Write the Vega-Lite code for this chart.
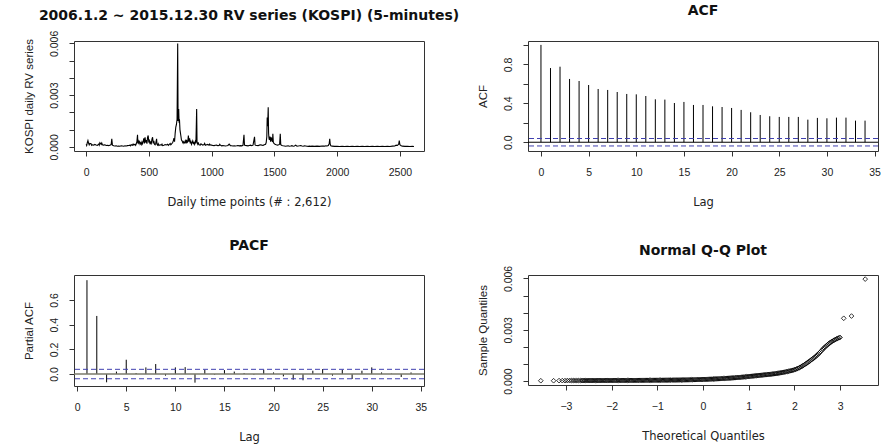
{
  "$schema": "https://vega.github.io/schema/vega-lite/v6.json",
  "usermeta": {"embedOptions": {"actions": false}},
  "background": "white",
  "padding": {"left": 22, "top": 3, "right": 0, "bottom": 0},
  "config": {
    "view": {"stroke": "#333", "strokeWidth": 1},
    "axis": {"labelFont": "Liberation Sans", "titleFont": "Liberation Sans", "labelFontSize": 10.5, "titleFontSize": 11.5, "titleFontWeight": "normal", "domain": false, "grid": false, "tickColor": "#333", "labelColor": "#222", "titleColor": "#222", "tickSize": 5, "labelOverlap": false, "labelSeparation": 0, "labelBound": false},
    "axisX": {"labelPadding": 11, "titlePadding": 19, "titleFont": "DejaVu Sans", "titleFontSize": 11.5},
    "axisY": {"labelAngle": -90, "labelAlign": "center", "labelBaseline": "bottom", "labelPadding": 10, "titlePadding": 15, "labelFontSize": 10.5},
    "title": {"font": "DejaVu Sans", "fontSize": 14, "fontWeight": "bold", "color": "#111", "anchor": "middle", "frame": "group"}
  },
  "datasets": {
    "one": [{}],
    "rv": [
      {"t":1,"v":0.00015},{"t":5,"v":0.00008},{"t":10,"v":0.00025},{"t":15,"v":0.00037},{"t":20,"v":0.00022},{"t":25,"v":0.00012},{"t":30,"v":0.0002},{"t":40,"v":0.00018},{"t":45,"v":0.00009},{"t":50,"v":0.00012},{"t":60,"v":0.0001},{"t":70,"v":0.00014},{"t":80,"v":0.00011},{"t":90,"v":0.00009},{"t":100,"v":0.00016},{"t":105,"v":0.00009},{"t":110,"v":0.00024},{"t":120,"v":0.00014},{"t":125,"v":0.00022},{"t":130,"v":0.00012},{"t":140,"v":0.0001},{"t":150,"v":0.00012},{"t":160,"v":0.00008},{"t":170,"v":0.00009},{"t":180,"v":0.00007},{"t":190,"v":0.0001},{"t":200,"v":0.00013},{"t":205,"v":0.00047},{"t":210,"v":0.0001},{"t":220,"v":0.00006},{"t":230,"v":0.00005},{"t":240,"v":0.00006},{"t":250,"v":0.00004},{"t":260,"v":0.00005},{"t":270,"v":0.00004},{"t":280,"v":0.00006},{"t":290,"v":0.00005},{"t":300,"v":0.00004},{"t":310,"v":0.00006},{"t":320,"v":0.00005},{"t":330,"v":0.00007},{"t":340,"v":0.00008},{"t":350,"v":0.0001},{"t":355,"v":0.00006},{"t":360,"v":0.00012},{"t":370,"v":0.00009},{"t":375,"v":0.00016},{"t":380,"v":0.00011},{"t":390,"v":0.00015},{"t":395,"v":0.00009},{"t":400,"v":0.00018},{"t":405,"v":0.0003},{"t":410,"v":0.0007},{"t":413,"v":0.0002},{"t":415,"v":0.0004},{"t":420,"v":0.00022},{"t":425,"v":0.0003},{"t":430,"v":0.00016},{"t":435,"v":0.00024},{"t":440,"v":0.00014},{"t":445,"v":0.00028},{"t":450,"v":0.00018},{"t":455,"v":0.00032},{"t":460,"v":0.0005},{"t":465,"v":0.0002},{"t":470,"v":0.00055},{"t":475,"v":0.00025},{"t":480,"v":0.0004},{"t":485,"v":0.00018},{"t":490,"v":0.00055},{"t":495,"v":0.00066},{"t":500,"v":0.00025},{"t":505,"v":0.00035},{"t":510,"v":0.00015},{"t":515,"v":0.00028},{"t":520,"v":0.0002},{"t":525,"v":0.00045},{"t":530,"v":0.00056},{"t":535,"v":0.0002},{"t":540,"v":0.00035},{"t":545,"v":0.00015},{"t":550,"v":0.00012},{"t":555,"v":0.0002},{"t":562,"v":0.00047},{"t":565,"v":0.00015},{"t":570,"v":0.0001},{"t":575,"v":0.00018},{"t":580,"v":0.00008},{"t":590,"v":0.00012},{"t":600,"v":0.0001},{"t":605,"v":0.00016},{"t":610,"v":0.00007},{"t":620,"v":0.00009},{"t":630,"v":0.00013},{"t":640,"v":0.00011},{"t":650,"v":0.00015},{"t":655,"v":0.00009},{"t":660,"v":0.00012},{"t":670,"v":0.0002},{"t":675,"v":0.00012},{"t":680,"v":0.00016},{"t":690,"v":0.00025},{"t":695,"v":0.00035},{"t":700,"v":0.0005},{"t":705,"v":0.0003},{"t":710,"v":0.0008},{"t":715,"v":0.00115},{"t":720,"v":0.0013},{"t":725,"v":0.0016},{"t":730,"v":0.006},{"t":733,"v":0.0015},{"t":736,"v":0.0018},{"t":738,"v":0.0022},{"t":741,"v":0.0014},{"t":744,"v":0.0016},{"t":748,"v":0.001},{"t":752,"v":0.0008},{"t":756,"v":0.0006},{"t":760,"v":0.0004},{"t":765,"v":0.00035},{"t":770,"v":0.00025},{"t":775,"v":0.0003},{"t":780,"v":0.0002},{"t":785,"v":0.00025},{"t":790,"v":0.00035},{"t":795,"v":0.0002},{"t":800,"v":0.0004},{"t":805,"v":0.00025},{"t":810,"v":0.0003},{"t":815,"v":0.00066},{"t":820,"v":0.0003},{"t":825,"v":0.0005},{"t":830,"v":0.0002},{"t":835,"v":0.0003},{"t":840,"v":0.00015},{"t":845,"v":0.00025},{"t":850,"v":0.00035},{"t":855,"v":0.0002},{"t":860,"v":0.00025},{"t":865,"v":0.00015},{"t":870,"v":0.0003},{"t":875,"v":0.0002},{"t":878,"v":0.00115},{"t":881,"v":0.0022},{"t":884,"v":0.0003},{"t":890,"v":0.00015},{"t":895,"v":0.00022},{"t":900,"v":0.00012},{"t":910,"v":0.0001},{"t":915,"v":0.00018},{"t":920,"v":0.00015},{"t":930,"v":0.0001},{"t":940,"v":0.00013},{"t":945,"v":0.0002},{"t":950,"v":0.00009},{"t":960,"v":0.00012},{"t":970,"v":0.00014},{"t":980,"v":0.00009},{"t":985,"v":0.00016},{"t":990,"v":0.00011},{"t":1000,"v":0.0001},{"t":1010,"v":0.00008},{"t":1020,"v":0.00007},{"t":1030,"v":0.00009},{"t":1040,"v":0.0001},{"t":1050,"v":0.00007},{"t":1060,"v":0.00008},{"t":1065,"v":0.00015},{"t":1070,"v":0.0001},{"t":1080,"v":0.00006},{"t":1090,"v":0.00007},{"t":1100,"v":0.00006},{"t":1110,"v":0.00005},{"t":1120,"v":0.00006},{"t":1130,"v":0.00008},{"t":1140,"v":0.00016},{"t":1150,"v":0.00007},{"t":1160,"v":0.00006},{"t":1170,"v":0.00005},{"t":1180,"v":0.00006},{"t":1190,"v":0.00005},{"t":1200,"v":0.00006},{"t":1210,"v":0.00008},{"t":1220,"v":0.00006},{"t":1230,"v":0.00007},{"t":1240,"v":0.00006},{"t":1250,"v":0.00009},{"t":1258,"v":0.0007},{"t":1262,"v":0.0001},{"t":1270,"v":0.00008},{"t":1280,"v":0.00007},{"t":1290,"v":0.00006},{"t":1300,"v":0.00008},{"t":1310,"v":0.0001},{"t":1320,"v":0.00007},{"t":1330,"v":0.0001},{"t":1342,"v":0.00058},{"t":1346,"v":0.00012},{"t":1350,"v":0.00009},{"t":1360,"v":0.00008},{"t":1370,"v":0.00007},{"t":1380,"v":0.0001},{"t":1390,"v":0.00012},{"t":1400,"v":0.0001},{"t":1410,"v":0.00009},{"t":1420,"v":0.00012},{"t":1430,"v":0.00015},{"t":1435,"v":0.00025},{"t":1440,"v":0.0006},{"t":1443,"v":0.0017},{"t":1447,"v":0.0012},{"t":1451,"v":0.0023},{"t":1454,"v":0.0008},{"t":1457,"v":0.0005},{"t":1460,"v":0.0004},{"t":1465,"v":0.0006},{"t":1470,"v":0.0003},{"t":1475,"v":0.00055},{"t":1480,"v":0.0004},{"t":1485,"v":0.0003},{"t":1488,"v":0.00076},{"t":1492,"v":0.00025},{"t":1497,"v":0.0002},{"t":1505,"v":0.00015},{"t":1515,"v":0.00012},{"t":1525,"v":0.0001},{"t":1535,"v":0.00012},{"t":1542,"v":0.00015},{"t":1547,"v":0.00076},{"t":1551,"v":0.00012},{"t":1560,"v":0.00008},{"t":1570,"v":0.00006},{"t":1580,"v":0.00005},{"t":1590,"v":0.00004},{"t":1600,"v":0.00005},{"t":1610,"v":0.00006},{"t":1620,"v":0.00004},{"t":1630,"v":0.00005},{"t":1640,"v":0.00007},{"t":1650,"v":0.00004},{"t":1660,"v":0.00005},{"t":1670,"v":0.0001},{"t":1680,"v":0.00004},{"t":1690,"v":0.00005},{"t":1700,"v":0.00006},{"t":1710,"v":0.00008},{"t":1720,"v":0.00005},{"t":1730,"v":0.00004},{"t":1740,"v":0.00006},{"t":1750,"v":0.00005},{"t":1760,"v":0.00004},{"t":1770,"v":0.00003},{"t":1780,"v":0.00004},{"t":1790,"v":0.00003},{"t":1800,"v":0.00004},{"t":1820,"v":0.00003},{"t":1840,"v":0.00004},{"t":1860,"v":0.00003},{"t":1880,"v":0.00005},{"t":1900,"v":0.00004},{"t":1910,"v":0.00006},{"t":1920,"v":0.00005},{"t":1930,"v":0.00008},{"t":1937,"v":0.0002},{"t":1941,"v":0.00047},{"t":1945,"v":0.00015},{"t":1950,"v":0.00006},{"t":1960,"v":0.00004},{"t":1980,"v":0.00003},{"t":2000,"v":0.00003},{"t":2020,"v":0.00002},{"t":2040,"v":0.00003},{"t":2060,"v":0.00002},{"t":2080,"v":0.00003},{"t":2100,"v":0.00002},{"t":2120,"v":0.00003},{"t":2140,"v":0.00002},{"t":2160,"v":0.00003},{"t":2180,"v":0.00002},{"t":2200,"v":0.00003},{"t":2220,"v":0.00002},{"t":2240,"v":0.00003},{"t":2260,"v":0.00002},{"t":2280,"v":0.00003},{"t":2300,"v":0.00002},{"t":2320,"v":0.00003},{"t":2340,"v":0.00002},{"t":2360,"v":0.00003},{"t":2380,"v":0.00002},{"t":2400,"v":0.00003},{"t":2420,"v":0.00002},{"t":2440,"v":0.00004},{"t":2460,"v":0.00005},{"t":2470,"v":0.0001},{"t":2480,"v":0.00008},{"t":2490,"v":0.00015},{"t":2495,"v":0.00037},{"t":2500,"v":0.00012},{"t":2510,"v":0.00006},{"t":2520,"v":0.00004},{"t":2540,"v":0.00003},{"t":2560,"v":0.00003},{"t":2580,"v":0.00002},{"t":2600,"v":0.00003},{"t":2612,"v":0.00002}
    ],
    "acf": [
      {"lag":0,"r":1.0},{"lag":1,"r":0.762},{"lag":2,"r":0.776},{"lag":3,"r":0.65},{"lag":4,"r":0.629},{"lag":5,"r":0.588},{"lag":6,"r":0.547},{"lag":7,"r":0.537},{"lag":8,"r":0.516},{"lag":9,"r":0.496},{"lag":10,"r":0.492},{"lag":11,"r":0.475},{"lag":12,"r":0.441},{"lag":13,"r":0.438},{"lag":14,"r":0.403},{"lag":15,"r":0.414},{"lag":16,"r":0.383},{"lag":17,"r":0.383},{"lag":18,"r":0.369},{"lag":19,"r":0.362},{"lag":20,"r":0.352},{"lag":21,"r":0.332},{"lag":22,"r":0.308},{"lag":23,"r":0.28},{"lag":24,"r":0.267},{"lag":25,"r":0.26},{"lag":26,"r":0.26},{"lag":27,"r":0.26},{"lag":28,"r":0.232},{"lag":29,"r":0.25},{"lag":30,"r":0.246},{"lag":31,"r":0.253},{"lag":32,"r":0.253},{"lag":33,"r":0.222},{"lag":34,"r":0.222}
    ],
    "pacf": [
      {"lag":1,"r":0.761},{"lag":2,"r":0.471},{"lag":3,"r":-0.067},{"lag":4,"r":0.02},{"lag":5,"r":0.116},{"lag":6,"r":0.008},{"lag":7,"r":0.054},{"lag":8,"r":0.081},{"lag":9,"r":-0.013},{"lag":10,"r":0.054},{"lag":11,"r":0.056},{"lag":12,"r":-0.07},{"lag":13,"r":0.035},{"lag":14,"r":-0.005},{"lag":15,"r":0.032},{"lag":16,"r":0.02},{"lag":17,"r":0.008},{"lag":18,"r":-0.005},{"lag":19,"r":0.035},{"lag":20,"r":0.013},{"lag":21,"r":-0.019},{"lag":22,"r":-0.046},{"lag":23,"r":-0.051},{"lag":24,"r":0.027},{"lag":25,"r":0.04},{"lag":26,"r":-0.013},{"lag":27,"r":0.035},{"lag":28,"r":-0.04},{"lag":29,"r":0.027},{"lag":30,"r":0.054},{"lag":31,"r":0.013},{"lag":32,"r":0.003},{"lag":33,"r":-0.024},{"lag":34,"r":0.013}
    ],
    "qq": [
      {"q":-3.55,"s":0.00002},{"q":-3.27,"s":0.00002},{"q":-3.15,"s":0.000025},{"q":-3.08,"s":0.000025},{"q":-3.02,"s":0.000025},{"q":-2.97,"s":0.00003},{"q":-2.92,"s":0.00003},{"q":-2.88,"s":0.00003},{"q":-2.84,"s":0.00003},{"q":-2.8,"s":0.00003},{"q":-2.76,"s":0.00003},{"q":-2.72,"s":0.00003},{"q":-2.68,"s":0.00003},
      {"q":-2.65,"s":0.00003},{"q":-2.625,"s":0.00003},{"q":-2.6,"s":0.00003},{"q":-2.575,"s":0.000031},{"q":-2.55,"s":0.000031},{"q":-2.525,"s":0.000031},{"q":-2.5,"s":0.000031},{"q":-2.475,"s":0.000032},{"q":-2.45,"s":0.000032},{"q":-2.425,"s":0.000032},{"q":-2.4,"s":0.000032},{"q":-2.375,"s":0.000033},{"q":-2.35,"s":0.000033},{"q":-2.325,"s":0.000033},{"q":-2.3,"s":0.000033},{"q":-2.275,"s":0.000034},{"q":-2.25,"s":0.000034},{"q":-2.225,"s":0.000034},{"q":-2.2,"s":0.000034},{"q":-2.175,"s":0.000035},{"q":-2.15,"s":0.000035},{"q":-2.125,"s":0.000035},{"q":-2.1,"s":0.000035},{"q":-2.075,"s":0.000036},{"q":-2.05,"s":0.000036},{"q":-2.025,"s":0.000036},{"q":-2.0,"s":0.000036},{"q":-1.975,"s":0.000037},{"q":-1.95,"s":0.000037},{"q":-1.925,"s":0.000037},{"q":-1.9,"s":0.000037},{"q":-1.875,"s":0.000038},{"q":-1.85,"s":0.000038},{"q":-1.825,"s":0.000038},{"q":-1.8,"s":0.000038},{"q":-1.775,"s":0.000039},{"q":-1.75,"s":0.000039},{"q":-1.725,"s":0.000039},{"q":-1.7,"s":0.000039},{"q":-1.675,"s":0.00004},{"q":-1.65,"s":0.00004},{"q":-1.625,"s":0.00004},{"q":-1.6,"s":0.000041},{"q":-1.575,"s":0.000041},{"q":-1.55,"s":0.000041},{"q":-1.525,"s":0.000042},{"q":-1.5,"s":0.000042},{"q":-1.475,"s":0.000042},{"q":-1.45,"s":0.000043},{"q":-1.425,"s":0.000043},{"q":-1.4,"s":0.000043},{"q":-1.375,"s":0.000044},{"q":-1.35,"s":0.000044},{"q":-1.325,"s":0.000045},{"q":-1.3,"s":0.000045},{"q":-1.275,"s":0.000045},{"q":-1.25,"s":0.000046},{"q":-1.225,"s":0.000046},{"q":-1.2,"s":0.000046},{"q":-1.175,"s":0.000047},{"q":-1.15,"s":0.000047},{"q":-1.125,"s":0.000048},{"q":-1.1,"s":0.000048},{"q":-1.075,"s":0.000049},{"q":-1.05,"s":0.000049},{"q":-1.025,"s":0.00005},{"q":-1.0,"s":0.00005},{"q":-0.975,"s":0.000051},{"q":-0.95,"s":0.000051},{"q":-0.925,"s":0.000052},{"q":-0.9,"s":0.000052},{"q":-0.875,"s":0.000053},{"q":-0.85,"s":0.000053},{"q":-0.825,"s":0.000054},{"q":-0.8,"s":0.000055},{"q":-0.775,"s":0.000055},{"q":-0.75,"s":0.000056},{"q":-0.725,"s":0.000057},{"q":-0.7,"s":0.000057},{"q":-0.675,"s":0.000058},{"q":-0.65,"s":0.000059},{"q":-0.625,"s":0.00006},{"q":-0.6,"s":0.00006},{"q":-0.575,"s":0.000061},{"q":-0.55,"s":0.000062},{"q":-0.525,"s":0.000063},{"q":-0.5,"s":0.000064},{"q":-0.475,"s":0.000065},{"q":-0.45,"s":0.000066},{"q":-0.425,"s":0.000067},{"q":-0.4,"s":0.000068},{"q":-0.375,"s":0.000069},{"q":-0.35,"s":0.00007},{"q":-0.325,"s":0.000072},{"q":-0.3,"s":0.000073},{"q":-0.275,"s":0.000075},{"q":-0.25,"s":0.000076},{"q":-0.225,"s":0.000078},{"q":-0.2,"s":0.000079},{"q":-0.175,"s":0.00008},{"q":-0.15,"s":0.000082},{"q":-0.125,"s":0.000084},{"q":-0.1,"s":0.000086},{"q":-0.075,"s":0.000088},{"q":-0.05,"s":0.00009},{"q":-0.025,"s":0.000092},{"q":0.0,"s":0.000095},{"q":0.025,"s":0.000098},{"q":0.05,"s":0.0001},{"q":0.075,"s":0.000102},{"q":0.1,"s":0.000105},{"q":0.125,"s":0.000108},{"q":0.15,"s":0.00011},{"q":0.175,"s":0.000113},{"q":0.2,"s":0.000116},{"q":0.225,"s":0.000119},{"q":0.25,"s":0.000122},{"q":0.275,"s":0.000125},{"q":0.3,"s":0.000128},{"q":0.325,"s":0.000132},{"q":0.35,"s":0.000135},{"q":0.375,"s":0.000138},{"q":0.4,"s":0.000142},{"q":0.425,"s":0.000146},{"q":0.45,"s":0.00015},{"q":0.475,"s":0.000154},{"q":0.5,"s":0.000158},{"q":0.525,"s":0.000162},{"q":0.55,"s":0.000166},{"q":0.575,"s":0.00017},{"q":0.6,"s":0.000175},{"q":0.625,"s":0.00018},{"q":0.65,"s":0.000184},{"q":0.675,"s":0.000189},{"q":0.7,"s":0.000194},{"q":0.725,"s":0.0002},{"q":0.75,"s":0.000205},{"q":0.775,"s":0.00021},{"q":0.8,"s":0.000216},{"q":0.825,"s":0.000222},{"q":0.85,"s":0.000228},{"q":0.875,"s":0.000234},{"q":0.9,"s":0.00024},{"q":0.925,"s":0.000246},{"q":0.95,"s":0.000253},{"q":0.975,"s":0.00026},{"q":1.0,"s":0.000266},{"q":1.025,"s":0.000273},{"q":1.05,"s":0.00028},{"q":1.075,"s":0.000287},{"q":1.1,"s":0.000294},{"q":1.125,"s":0.000301},{"q":1.15,"s":0.000308},{"q":1.175,"s":0.000315},{"q":1.2,"s":0.000322},{"q":1.225,"s":0.000329},{"q":1.25,"s":0.000336},{"q":1.275,"s":0.000343},{"q":1.3,"s":0.00035},{"q":1.325,"s":0.000357},{"q":1.35,"s":0.000364},{"q":1.375,"s":0.000371},{"q":1.4,"s":0.000378},{"q":1.425,"s":0.000385},{"q":1.45,"s":0.000392},{"q":1.475,"s":0.000399},{"q":1.5,"s":0.000406},{"q":1.525,"s":0.000414},{"q":1.55,"s":0.000422},{"q":1.575,"s":0.000431},{"q":1.6,"s":0.00044},{"q":1.625,"s":0.00045},{"q":1.65,"s":0.00046},{"q":1.675,"s":0.000471},{"q":1.7,"s":0.000482},{"q":1.725,"s":0.000494},{"q":1.75,"s":0.000506},{"q":1.775,"s":0.000519},{"q":1.8,"s":0.000532},{"q":1.825,"s":0.000546},{"q":1.85,"s":0.00056},{"q":1.875,"s":0.000575},{"q":1.9,"s":0.00059},{"q":1.925,"s":0.000606},{"q":1.95,"s":0.000622},{"q":1.975,"s":0.00064},{"q":2.0,"s":0.00066},{"q":2.025,"s":0.000685},{"q":2.05,"s":0.00071},{"q":2.075,"s":0.00074},{"q":2.1,"s":0.00077},{"q":2.125,"s":0.000805},{"q":2.15,"s":0.00084},{"q":2.175,"s":0.00088},{"q":2.2,"s":0.00092},{"q":2.225,"s":0.000965},{"q":2.25,"s":0.00101},{"q":2.275,"s":0.001055},{"q":2.3,"s":0.0011},{"q":2.325,"s":0.00115},{"q":2.35,"s":0.0012},{"q":2.375,"s":0.00125},{"q":2.4,"s":0.0013},{"q":2.425,"s":0.00135},{"q":2.45,"s":0.0014},{"q":2.475,"s":0.00146},{"q":2.5,"s":0.00152},{"q":2.525,"s":0.001585},{"q":2.55,"s":0.00165},{"q":2.575,"s":0.00172},{"q":2.6,"s":0.0018},{"q":2.625,"s":0.00187},{"q":2.65,"s":0.00194},{"q":2.675,"s":0.002},{"q":2.7,"s":0.00206},{"q":2.725,"s":0.00212},{"q":2.75,"s":0.00218},{"q":2.775,"s":0.00223},{"q":2.8,"s":0.00228},{"q":2.825,"s":0.00232},{"q":2.85,"s":0.00236},{"q":2.875,"s":0.0024},{"q":2.9,"s":0.00243},{"q":2.925,"s":0.00247},{"q":2.95,"s":0.0025},{"q":2.975,"s":0.00253},{"q":3.0,"s":0.00255},{"q":3.08,"s":0.00367},{"q":3.25,"s":0.0038},{"q":3.55,"s":0.00596}
    ]
  },
  "concat": [
    {
      "width": 350, "height": 110,
      "title": {"text": "2006.1.2 ~ 2015.12.30 RV series (KOSPI) (5-minutes)", "offset": 7},
      "data": {"name": "rv"},
      "mark": {"type": "line", "color": "#000", "strokeWidth": 1.1},
      "encoding": {
        "x": {"field": "t", "type": "quantitative", "scale": {"domain": [-96, 2692], "nice": false, "zero": false}, "axis": {"values": [0, 500, 1000, 1500, 2000, 2500], "format": "d", "title": "Daily time points (# : 2,612)"}},
        "y": {"field": "v", "type": "quantitative", "scale": {"domain": [-0.00024, 0.00614], "nice": false, "zero": false}, "axis": {"values": [0, 0.001, 0.002, 0.003, 0.004, 0.005, 0.006], "labelOverlap": false, "labelExpr": "abs(datum.value*1000 - 3*round(datum.value*1000/3)) < 0.01 ? format(datum.value, '.3f') : ''", "title": "KOSPI daily RV series"}}
      }
    },
    {
      "width": 350, "height": 110,
      "title": {"text": "ACF", "offset": 23},
      "layer": [
        {
          "data": {"name": "acf"},
          "mark": {"type": "rule", "color": "#000", "strokeWidth": 1},
          "encoding": {
            "x": {"field": "lag", "type": "quantitative", "scale": {"domain": [-1.36, 35.36], "nice": false, "zero": false}, "axis": {"values": [0, 5, 10, 15, 20, 25, 30, 35], "title": "Lag"}},
            "y": {"field": "r", "type": "quantitative", "scale": {"domain": [-0.09, 1.04], "nice": false, "zero": false}, "axis": {"values": [0, 0.2, 0.4, 0.6, 0.8, 1.0], "labelOverlap": false, "labelExpr": "(round(datum.value*10) % 4 == 0) ? format(datum.value, '.1f') : ''", "title": "ACF"}},
            "y2": {"datum": 0}
          }
        },
        {"data": {"name": "one"}, "mark": {"type": "rule", "color": "#000", "strokeWidth": 1}, "encoding": {"y": {"datum": 0, "axis": {"values": [0, 0.2, 0.4, 0.6, 0.8, 1.0], "labelOverlap": false, "labelExpr": "(round(datum.value*10) % 4 == 0) ? format(datum.value, '.1f') : ''", "title": "ACF"}}}},
        {"data": {"name": "one"}, "mark": {"type": "rule", "color": "#4040b0", "strokeWidth": 1, "strokeDash": [5, 3]}, "encoding": {"y": {"datum": 0.0383, "axis": {"values": [0, 0.2, 0.4, 0.6, 0.8, 1.0], "labelOverlap": false, "labelExpr": "(round(datum.value*10) % 4 == 0) ? format(datum.value, '.1f') : ''", "title": "ACF"}}}},
        {"data": {"name": "one"}, "mark": {"type": "rule", "color": "#4040b0", "strokeWidth": 1, "strokeDash": [5, 3]}, "encoding": {"y": {"datum": -0.0383, "axis": {"values": [0, 0.2, 0.4, 0.6, 0.8, 1.0], "labelOverlap": false, "labelExpr": "(round(datum.value*10) % 4 == 0) ? format(datum.value, '.1f') : ''", "title": "ACF"}}}}
      ]
    },
    {
      "width": 350, "height": 111,
      "title": {"text": "PACF", "offset": 22},
      "layer": [
        {
          "data": {"name": "pacf"},
          "mark": {"type": "rule", "color": "#000", "strokeWidth": 1},
          "encoding": {
            "x": {"field": "lag", "type": "quantitative", "scale": {"domain": [-0.32, 35.32], "nice": false, "zero": false}, "axis": {"values": [0, 5, 10, 15, 20, 25, 30, 35], "title": "Lag"}},
            "y": {"field": "r", "type": "quantitative", "scale": {"domain": [-0.097, 0.803], "nice": false, "zero": false}, "axis": {"values": [0, 0.2, 0.4, 0.6], "labelOverlap": false, "labelExpr": "format(datum.value, '.1f')", "title": "Partial ACF"}},
            "y2": {"datum": 0}
          }
        },
        {"data": {"name": "one"}, "mark": {"type": "rule", "color": "#7a7a6a", "strokeWidth": 1.5}, "encoding": {"y": {"datum": 0, "axis": {"values": [0, 0.2, 0.4, 0.6], "labelOverlap": false, "labelExpr": "format(datum.value, '.1f')", "title": "Partial ACF"}}}},
        {"data": {"name": "one"}, "mark": {"type": "rule", "color": "#4040b0", "strokeWidth": 1, "strokeDash": [5, 3]}, "encoding": {"y": {"datum": 0.0383, "axis": {"values": [0, 0.2, 0.4, 0.6], "labelOverlap": false, "labelExpr": "format(datum.value, '.1f')", "title": "Partial ACF"}}}},
        {"data": {"name": "one"}, "mark": {"type": "rule", "color": "#4040b0", "strokeWidth": 1, "strokeDash": [5, 3]}, "encoding": {"y": {"datum": -0.0383, "axis": {"values": [0, 0.2, 0.4, 0.6], "labelOverlap": false, "labelExpr": "format(datum.value, '.1f')", "title": "Partial ACF"}}}}
      ]
    },
    {
      "width": 350, "height": 110,
      "title": {"text": "Normal Q-Q Plot", "offset": 7},
      "data": {"name": "qq"},
      "mark": {"type": "point", "shape": "diamond", "filled": false, "color": "#000", "size": 22, "strokeWidth": 0.8, "opacity": 1},
      "encoding": {
        "x": {"field": "q", "type": "quantitative", "scale": {"domain": [-3.83, 3.83], "nice": false, "zero": false}, "axis": {"values": [-3, -2, -1, 0, 1, 2, 3], "format": "d", "title": "Theoretical Quantiles"}},
        "y": {"field": "s", "type": "quantitative", "scale": {"domain": [-0.00023, 0.0062], "nice": false, "zero": false}, "axis": {"values": [0, 0.001, 0.002, 0.003, 0.004, 0.005, 0.006], "labelOverlap": false, "labelExpr": "abs(datum.value*1000 - 3*round(datum.value*1000/3)) < 0.01 ? format(datum.value, '.3f') : ''", "title": "Sample Quantiles"}}
      }
    }
  ],
  "columns": 2,
  "bounds": "flush",
  "spacing": {"row": 124, "column": 104}
}
